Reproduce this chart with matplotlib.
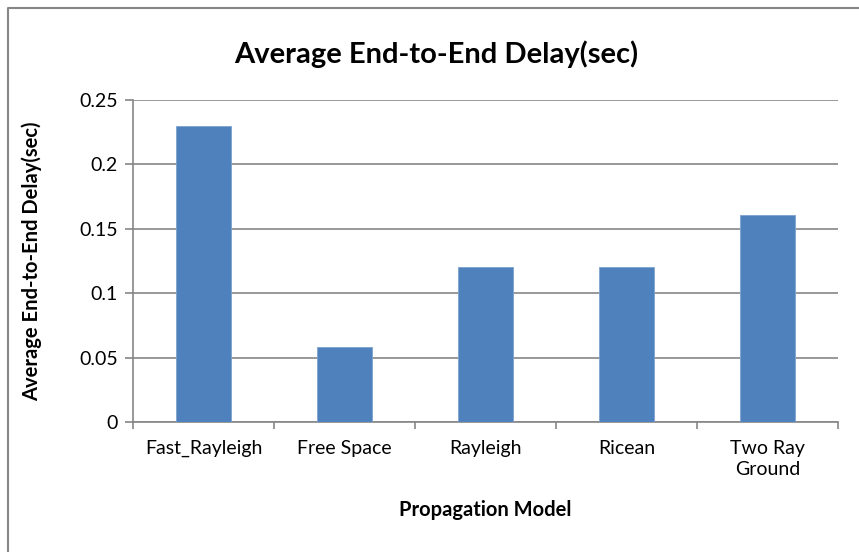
import matplotlib.pyplot as plt
import numpy as np
from matplotlib.lines import Line2D

# delay per propagation model
models = ['Fast_Rayleigh', 'Free Space', 'Rayleigh', 'Ricean', 'Two Ray\nGround']
delays = [0.230, 0.058, 0.120, 0.120, 0.161]
yticks = [0, 0.05, 0.1, 0.15, 0.2, 0.25]

plt.rcParams['font.family'] = ['Lato', 'DejaVu Sans']

fig = plt.figure(figsize=(8.59, 5.52), dpi=100)
ax = fig.add_axes([133 / 859, 1 - 422 / 552, 705 / 859, 322 / 552])

x = np.arange(len(models))
ax.bar(x, delays, width=0.39, color='#4F81BD', edgecolor='#7EA3D1', linewidth=0.6, zorder=3)

ax.set_xlim(-0.5, len(models) - 0.5)
ax.set_ylim(0, 0.25)
ax.set_yticks(yticks)
ax.set_yticklabels(['0', '0.05', '0.1', '0.15', '0.2', '0.25'], fontsize=14)
ax.yaxis.grid(True, color='#868686', linewidth=1.2, zorder=0)

# category labels centred, tick marks between categories
ax.set_xticks(x)
ax.set_xticklabels(models, fontsize=14, linespacing=1.3)
ax.tick_params(axis='x', length=0, pad=13)
ax.set_xticks(np.arange(-0.5, len(models)), minor=True)
ax.tick_params(axis='x', which='minor', length=5, color='#868686', width=1.2)
ax.tick_params(axis='y', length=6, color='#868686', width=1.2, pad=5)

for side in ['top', 'right']:
    ax.spines[side].set_visible(False)
for side in ['left', 'bottom']:
    ax.spines[side].set_color('#868686')
    ax.spines[side].set_linewidth(1.2)

ax.set_xlabel('Propagation Model', fontsize=14.5, fontweight='bold', labelpad=16)
ax.set_ylabel('Average End-to-End Delay(sec)', fontsize=14.5, fontweight='bold')
ax.yaxis.set_label_coords(-91 / 705, 0.5)
fig.text(436 / 859, 1 - 54 / 552, 'Average End-to-End Delay(sec)', fontsize=21,
         fontweight='bold', ha='center', va='center')

# chart area border (only top and left edges fall inside the image)
fx, fy = 8 / 859, 1 - 8 / 552
fig.add_artist(Line2D([fx, fx, 1.0], [0.0, fy, fy], transform=fig.transFigure,
                      color='#868686', linewidth=1.5))

fig.savefig('out.png', dpi=100)
